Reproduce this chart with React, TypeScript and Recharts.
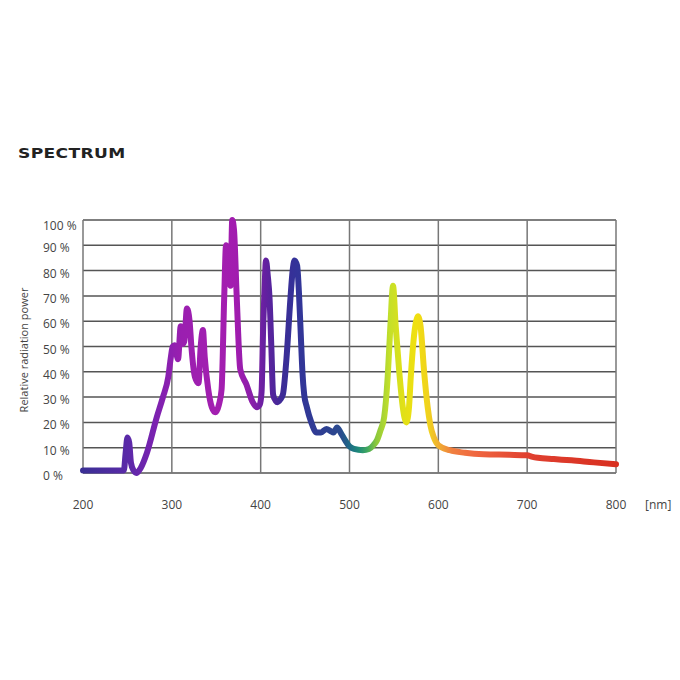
import { LineChart, Line, XAxis, YAxis, CartesianGrid } from "recharts"

// wavelength (nm) and relative radiation power (%)
const wavelengths = [
    200, 246, 248, 250, 252, 254, 257, 260, 265, 272, 283, 290, 296, 299, 301, 303, 307, 310, 312, 314,
    317, 320, 322, 326, 330, 332.5, 335, 337, 341, 345, 349, 353, 356, 359, 361, 364, 366, 368, 370, 373,
    377, 384, 391, 396, 399, 401, 403, 404, 406, 408, 410, 412, 414, 417, 419, 422, 425, 429, 433.5, 436,
    438, 441, 443, 445, 447, 449, 452, 457, 463, 468, 474, 479, 482, 486, 490, 495, 500, 505, 515, 522,
    527, 531, 535, 539, 543, 546, 549, 552, 556, 560, 564, 567, 569, 572, 575, 577, 580, 584, 588, 591,
    595, 600, 613, 630, 651, 680, 700, 705, 712, 730, 750, 775, 800,
]
const power = [
    1, 1, 8, 14, 12, 4, 1, 0, 2, 8, 22, 30, 38, 46, 50, 50.5, 45, 58, 51, 52,
    65, 60, 50, 38, 35.5, 50, 56.5, 46, 33, 26, 24, 27, 33, 70, 90, 80, 74, 100, 96, 70,
    41, 35, 28, 26, 27, 32, 60, 69, 84, 78, 69, 50, 31, 28.5, 28, 29, 31, 45, 69, 80,
    84, 82, 72, 56, 40, 31, 26, 20, 16, 16, 17.4, 16.5, 16, 18, 16, 13, 10.5, 9.5, 9, 9.5,
    11, 13, 17, 22, 38, 58, 74, 58, 40, 26, 20, 26, 38, 52, 60, 62, 58, 40, 26, 19,
    14, 11, 9, 8, 7.4, 7.2, 7, 6.5, 6, 5.5, 5, 4.2, 3.5,
]

const xTicks = [200, 300, 400, 500, 600, 700, 800]
const yTicks = [0, 10, 20, 30, 40, 50, 60, 70, 80, 90, 100]

// colour of the curve along the wavelength axis
const stopNm = [200, 250, 280, 310, 350, 372, 390, 405, 425, 440, 470, 490, 500, 510, 520, 530, 545, 560, 575, 590, 600, 615, 640, 700, 800]
const stopColors = [
    "#3b2f95", "#5a2aa8", "#7a22b0", "#9a1fb0", "#a31fb0", "#a21caf", "#8a1faa", "#6420a0", "#3c2c96",
    "#333399", "#2e3f92", "#2a4a8e", "#1e6a86", "#1e8a7a", "#40a860", "#8cc83c", "#c4e02a", "#e0e018",
    "#f0e010", "#f0d020", "#f0b030", "#f08040", "#f06840", "#e04030", "#d83020",
]

const data = wavelengths.map((nm, i) => ({ nm, p: power[i] }))

const font = "'Open Sans', 'Liberation Sans', sans-serif"

const YTick = ({ y, payload }: any) => (
    <text x={43} y={y} dy={payload.value === 100 ? 10 : 7} textAnchor="start" fontSize={12} fill="#444" fontFamily={font}>
        {payload.value} %
    </text>
)

export default function App() {
    return (
        <div style={{ position: "absolute", left: 0, top: 0, width: 680, height: 680, background: "#fff" }}>
            <div
                style={{
                    position: "absolute",
                    left: 18,
                    top: 145,
                    fontFamily: "'DejaVu Sans', sans-serif",
                    fontWeight: 700,
                    fontSize: 14,
                    letterSpacing: 0.3,
                    color: "#222",
                    transform: "scaleX(1.22)",
                    transformOrigin: "left center",
                }}
            >
                SPECTRUM
            </div>
            <div style={{ position: "absolute", left: 23, top: 350, width: 0, height: 0 }}>
                <div
                    style={{
                        position: "absolute",
                        left: 0,
                        top: 0,
                        transform: "translate(-50%, -50%) rotate(-90deg)",
                        whiteSpace: "nowrap",
                        fontFamily: font,
                        fontSize: 11,
                        color: "#444",
                    }}
                >
                    Relative radiation power
                </div>
            </div>
            <div
                style={{
                    position: "absolute",
                    left: 645,
                    top: 496,
                    fontFamily: font,
                    fontSize: 12,
                    color: "#444",
                }}
            >
                [nm]
            </div>
            <LineChart width={680} height={680} data={data} margin={{ top: 220, right: 64, bottom: 167, left: 43 }}>
                <defs>
                    <linearGradient id="spectrum" x1="0" y1="0" x2="1" y2="0">
                        {stopNm.map((nm, i) => (
                            <stop key={nm} offset={(nm - 200) / 600} stopColor={stopColors[i]} />
                        ))}
                    </linearGradient>
                </defs>
                <CartesianGrid vertical={false} stroke="#555" strokeWidth={1.5} />
                <CartesianGrid horizontal={false} stroke="#777" strokeWidth={1.5} />
                <XAxis
                    dataKey="nm"
                    type="number"
                    domain={[200, 800]}
                    ticks={xTicks}
                    axisLine={false}
                    tickLine={false}
                    tickSize={0}
                    tickMargin={27}
                    height={40}
                    tick={{ fontSize: 12, fill: "#444", fontFamily: font }}
                />
                <YAxis
                    type="number"
                    domain={[0, 100]}
                    ticks={yTicks}
                    width={40}
                    axisLine={false}
                    tickLine={false}
                    tick={<YTick />}
                />
                <Line
                    dataKey="p"
                    type="monotone"
                    stroke="url(#spectrum)"
                    strokeWidth={6}
                    strokeLinecap="round"
                    strokeLinejoin="round"
                    dot={false}
                    isAnimationActive={false}
                />
            </LineChart>
        </div>
    )
}
